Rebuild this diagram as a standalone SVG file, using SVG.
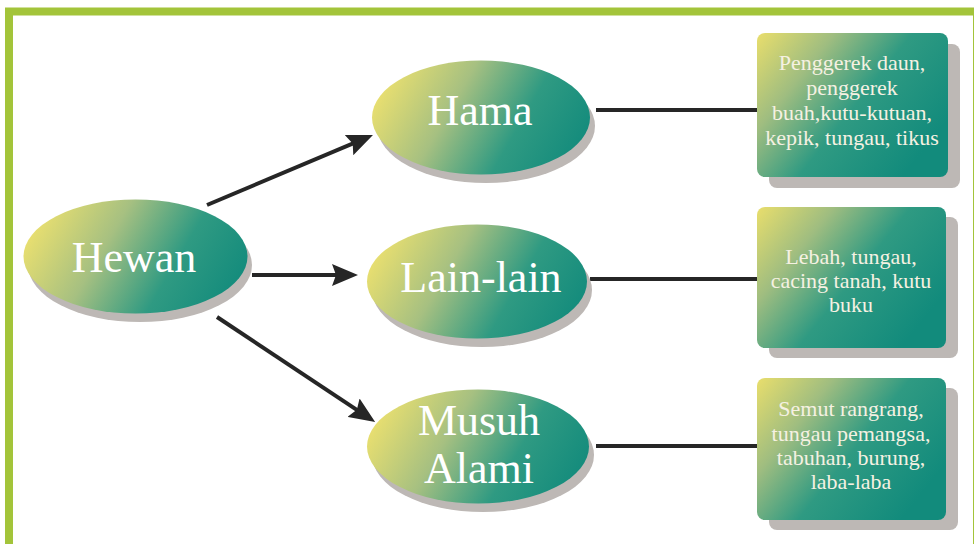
<svg xmlns="http://www.w3.org/2000/svg" width="974" height="544" viewBox="0 0 974 544">
<defs>
<linearGradient id="eg" x1="0" y1="0.35" x2="1" y2="0.65">
<stop offset="0" stop-color="#ebe06f"/>
<stop offset="0.35" stop-color="#a6c081"/>
<stop offset="0.68" stop-color="#2f9a82"/>
<stop offset="1" stop-color="#138b7c"/>
</linearGradient>
<linearGradient id="bg" x1="0" y1="0" x2="1" y2="0.6">
<stop offset="0" stop-color="#e9de6c"/>
<stop offset="0.3" stop-color="#9fbd80"/>
<stop offset="0.6" stop-color="#2f9a82"/>
<stop offset="1" stop-color="#128b7c"/>
</linearGradient>
<marker id="ah" markerUnits="userSpaceOnUse" markerWidth="26" markerHeight="22" viewBox="0 0 26 22" refX="18" refY="11" orient="auto">
<path d="M0,0 L26,11 L0,22 L4,11 z" fill="#262626"/>
</marker>
</defs>
<style>
.shadow{fill:#bdb8b5}
.ell{fill:url(#eg)}
.box{fill:url(#bg)}
.big{font-family:"Liberation Serif","DejaVu Serif",serif;font-size:44px;fill:#ffffff;text-anchor:middle}
.small{font-family:"Liberation Serif","DejaVu Serif",serif;font-size:22px;fill:#f5f1e2;text-anchor:middle}
.arr{stroke:#262626;stroke-width:4;fill:none;marker-end:url(#ah)}
.ln{stroke:#262626;stroke-width:4;fill:none}
</style>
<rect x="0" y="0" width="974" height="544" fill="#ffffff"/>
<rect x="9" y="11.5" width="968" height="560" fill="none" stroke="#a3c43a" stroke-width="8"/>
<g id="connectors">
<line class="arr" x1="207" y1="205" x2="365.6" y2="138.1"/>
<line class="arr" x1="252" y1="275" x2="350" y2="275"/>
<line class="arr" x1="217" y1="317" x2="368.5" y2="417.6"/>
<line class="ln" x1="596" y1="110" x2="757" y2="110"/>
<line class="ln" x1="590" y1="279" x2="757" y2="279"/>
<line class="ln" x1="596" y1="446" x2="757" y2="446"/>
</g>
<g id="hewan">
<ellipse class="shadow" cx="140" cy="265" rx="112" ry="57"/>
<ellipse class="ell" cx="135.5" cy="256.5" rx="112" ry="57"/>
<text class="big" x="134" y="272">Hewan</text>
</g>
<g id="hama">
<ellipse class="shadow" cx="486" cy="126" rx="109" ry="57"/>
<ellipse class="ell" cx="481" cy="117.5" rx="109" ry="57"/>
<text class="big" x="480" y="125">Hama</text>
</g>
<g id="lain-lain">
<ellipse class="shadow" cx="482" cy="290" rx="110" ry="57"/>
<ellipse class="ell" cx="477" cy="281.5" rx="110" ry="57"/>
<text class="big" x="481" y="292">Lain-lain</text>
</g>
<g id="musuh-alami">
<ellipse class="shadow" cx="483" cy="455" rx="111" ry="57"/>
<ellipse class="ell" cx="478" cy="446.5" rx="111" ry="57"/>
<text class="big" x="479" y="435">Musuh</text>
<text class="big" x="479" y="483">Alami</text>
</g>
<g id="box-hama">
<rect class="shadow" x="769" y="44" width="191" height="144" rx="8"/>
<rect class="box" x="757" y="33" width="191" height="144" rx="8"/>
<text class="small" x="852" y="70">Penggerek daun,</text>
<text class="small" x="852" y="95">penggerek</text>
<text class="small" x="852" y="120">buah,kutu-kutuan,</text>
<text class="small" x="852" y="145">kepik, tungau, tikus</text>
</g>
<g id="box-lain">
<rect class="shadow" x="769" y="217" width="189" height="141" rx="8"/>
<rect class="box" x="757" y="207" width="189" height="141" rx="8"/>
<text class="small" x="851" y="264">Lebah, tungau,</text>
<text class="small" x="851" y="288">cacing tanah, kutu</text>
<text class="small" x="851" y="312">buku</text>
</g>
<g id="box-musuh">
<rect class="shadow" x="769" y="388" width="189" height="142" rx="8"/>
<rect class="box" x="757" y="378" width="189" height="142" rx="8"/>
<text class="small" x="851" y="416">Semut rangrang,</text>
<text class="small" x="851" y="441">tungau pemangsa,</text>
<text class="small" x="851" y="465">tabuhan, burung,</text>
<text class="small" x="851" y="489">laba-laba</text>
</g>
</svg>
